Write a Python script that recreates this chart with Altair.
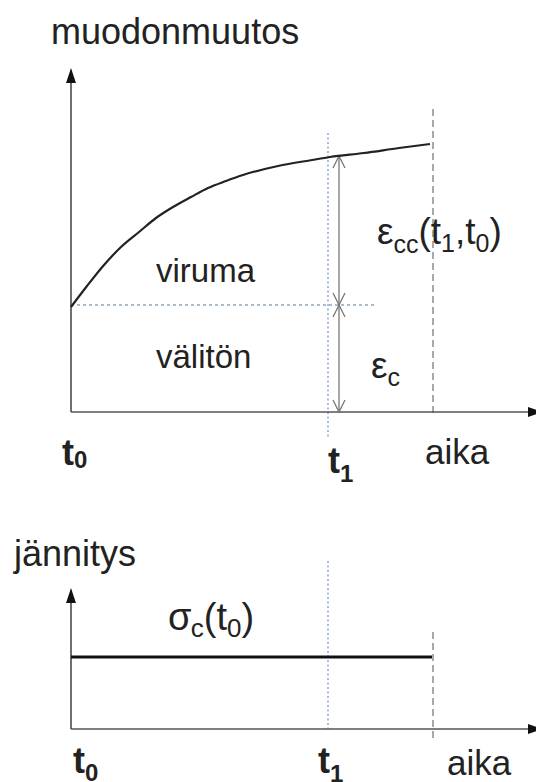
import altair as alt
import pandas as pd

# ---------------- data (diagram coordinates, px units) -------------
curve_x = [71, 87, 104, 121, 139, 156, 173, 191, 208, 226, 243, 278, 312, 330, 364, 399, 430]
curve_y = [307, 286, 265, 247, 232, 218, 207, 197, 188, 181, 175, 166, 160, 157, 153, 148, 144]

axis_x1 = [71, 71, 71, 71]
axis_y1 = [412, 412, 729, 729]
axis_x2 = [71, 530, 71, 530]
axis_y2 = [83, 412, 603, 729]

blue_x = [328, 328]
blue_y1 = [133, 561]
blue_y2 = [438, 729]

gray_x = [433, 433]
gray_y1 = [109, 632]
gray_y2 = [413, 739]

level_y = [305]          # instantaneous strain level
level_x = [71, 374]
stress_y = [657]         # constant stress
stress_x = [71, 432]

dim_x = [339]
dim_y = [156, 412]
dim_mid = [305]

labels_txt = ["muodonmuutos", "viruma", "välitön", "jännitys", "aika", "aika"]
labels_x = [51, 156, 156, 14, 425, 447]
labels_y = [44, 282, 368, 566, 464, 775]
labels_s = [36, 33, 33, 36, 35, 35]

# ---------------- helpers ---------------------------------------------------------------
ADV = {"a": .556, "i": .222, "k": .5, "t": .278, "c": .5, "(": .333, ")": .333,
       ",": .278, "0": .556, "1": .556, "ε": .446, "σ": .6}
ADV_B = {"t": .333, "0": .556, "1": .556}


def run(pieces, x0, base):
    """pieces: (text, size, drop, bold) -> rows laid out left to right."""
    rows, x = [], x0
    for txt, size, drop, bold in pieces:
        rows.append({"x": x, "y": base + drop, "t": txt, "s": size, "b": bold})
        table = ADV_B if bold else ADV
        x += sum(table.get(ch, .55) for ch in txt) * size
    return rows


math_rows = []
math_rows += run([("ε", 37, 0, False), ("cc", 25, 9, False), ("(", 37, 0, False), ("t", 37, 0, False),
                  ("1", 25, 8, False), (",", 37, 0, False), ("t", 37, 0, False), ("0", 25, 8, False),
                  (")", 37, 0, False)], 377, 244)
math_rows += run([("ε", 37, 0, False), ("c", 25, 8, False)], 371, 378)
math_rows += run([("σ", 38, 0, False), ("c", 26, 7, False), ("(", 38, 0, False), ("t", 38, 0, False),
                  ("0", 26, 7, False), (")", 38, 0, False)], 168, 630)
math_rows += run([("t", 36, 0, True), ("0", 24, 3, True)], 62, 465)
math_rows += run([("t", 36, 0, True), ("1", 24, 9, True)], 328, 473)
math_rows += run([("t", 36, 0, True), ("0", 24, 8, True)], 73, 773)
math_rows += run([("t", 36, 0, True), ("1", 24, 9, True)], 318, 773)

# ---------------- scales ---------------------------------------------------------------
W, H = 528, 774
XS = alt.Scale(domain=[8, 8 + W], nice=False, zero=False)
YS = alt.Scale(domain=[8, 8 + H], nice=False, zero=False, reverse=True)


def X(f="x"):
    return alt.X(f"{f}:Q", scale=XS, axis=None)


def Y(f="y"):
    return alt.Y(f"{f}:Q", scale=YS, axis=None)


def seg_df(x1, y1, x2, y2):
    return pd.DataFrame({"x": x1, "y": y1, "x2": x2, "y2": y2})


def rules(df, **mk):
    return alt.Chart(df).mark_rule(**mk).encode(
        x=X(), y=Y(), x2=alt.X2("x2"), y2=alt.Y2("y2"))


axes = rules(seg_df(axis_x1, axis_y1, axis_x2, axis_y2), color="#555555", strokeWidth=1.7)
blue = rules(seg_df(blue_x, blue_y1, blue_x, blue_y2), color="#7090c0", strokeWidth=1.2,
             strokeDash=[2, 2.5])
gray = rules(seg_df(gray_x, gray_y1, gray_x, gray_y2), color="#9a9a9a", strokeWidth=1.7,
             strokeDash=[7, 4])
level = rules(seg_df([level_x[0]], level_y, [level_x[1]], level_y), color="#8ea6b8",
              strokeWidth=1.3, strokeDash=[3, 3])
stress = rules(seg_df([stress_x[0]], stress_y, [stress_x[1]], stress_y), color="#111111",
               strokeWidth=3.2)
dim = rules(seg_df(dim_x, [dim_y[0]], dim_x, [dim_y[1]]), color="#777777", strokeWidth=1.3)

curve = alt.Chart(pd.DataFrame({"x": curve_x, "y": curve_y})).mark_line(
    color="#222222", strokeWidth=2.2, interpolate="monotone").encode(x=X(), y=Y())

UP = "M0,-1L0.66,1L-0.66,1Z"
RIGHT = "M1,0L-1,0.66L-1,-0.66Z"
heads = pd.DataFrame({
    "x": [71, 535.5, 71, 535.5],
    "y": [75.5, 412, 595.5, 729],
    "shape": [UP, RIGHT, UP, RIGHT],
})
arrowheads = alt.Chart(heads).mark_point(filled=True, size=225, color="#111111",
                                         opacity=1).encode(
    x=X(), y=Y(), shape=alt.Shape("shape:N", scale=None))

CH_UP = "M-1,1L0,-1L1,1"
CH_DN = "M-1,-1L0,1L1,-1"
chev = pd.DataFrame({
    "x": dim_x * 4,
    "y": [dim_y[0] + 6, dim_mid[0] - 6, dim_mid[0] + 6, dim_y[1] - 6],
    "shape": [CH_UP, CH_DN, CH_UP, CH_DN],
})
chevrons = alt.Chart(chev).mark_point(filled=False, size=144, color="#777777", strokeWidth=1.3,
                                      opacity=1).encode(
    x=X(), y=Y(), shape=alt.Shape("shape:N", scale=None))

lab_df = pd.DataFrame({"x": labels_x, "y": labels_y, "t": labels_txt, "s": labels_s})
labels = alt.Chart(lab_df).mark_text(align="left", baseline="alphabetic", font="Liberation Sans",
                                     color="#222222").encode(
    x=X(), y=Y(), text="t:N", size=alt.Size("s:Q", scale=None))

mdf = pd.DataFrame(math_rows)
math_n = alt.Chart(mdf[~mdf.b]).mark_text(align="left", baseline="alphabetic",
                                          font="Liberation Sans", color="#222222").encode(
    x=X(), y=Y(), text="t:N", size=alt.Size("s:Q", scale=None))
math_b = alt.Chart(mdf[mdf.b]).mark_text(align="left", baseline="alphabetic",
                                         font="Liberation Sans", fontWeight="bold",
                                         color="#222222").encode(
    x=X(), y=Y(), text="t:N", size=alt.Size("s:Q", scale=None))

chart = alt.layer(
    level, blue, gray, axes, dim, chevrons, stress, curve, arrowheads, labels, math_n, math_b
).properties(
    width=W, height=H, padding=0, autosize=alt.AutoSizeParams(type="none"),
    background="white"
).configure_view(stroke=None)

chart.save("out.html", embed_options={"renderer": "svg", "actions": False})
